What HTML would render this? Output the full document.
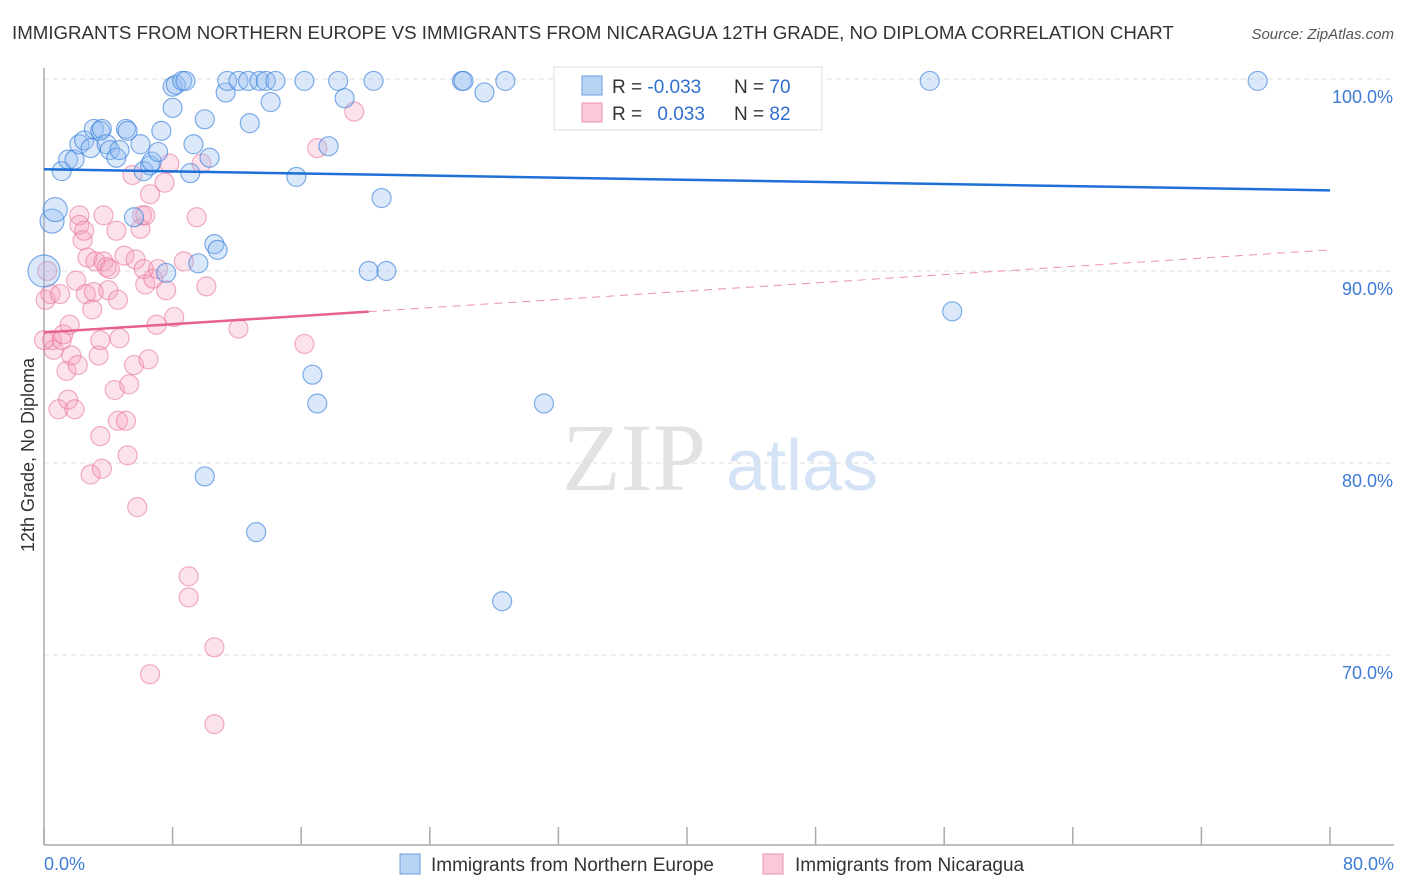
<!DOCTYPE html>
<html><head><meta charset="utf-8">
<style>
body{margin:0;background:#fff;font-family:"Liberation Sans",sans-serif;}
#wrap{position:relative;width:1406px;height:892px;overflow:hidden;}
</style></head>
<body>
<div id="wrap">
<svg id="chart" width="1406" height="892">
<text x="12" y="39" font-size="18.7" fill="#333">IMMIGRANTS FROM NORTHERN EUROPE VS IMMIGRANTS FROM NICARAGUA 12TH GRADE, NO DIPLOMA CORRELATION CHART</text>
<text x="1394" y="39" font-size="15" fill="#555" font-style="italic" text-anchor="end">Source: ZipAtlas.com</text>
<g>
<text x="634" y="490" font-size="96" fill="#e2e2e2" font-family="Liberation Serif,serif" text-anchor="middle">ZIP</text>
<text x="802" y="490" font-size="72" fill="#d4e3f5" text-anchor="middle">atlas</text>
</g>
<g id="grid"></g>
<g id="axes"></g>
<g id="pts"></g>
<g id="trend"></g>
<g>
<rect x="554" y="67" width="268" height="63" fill="#fff" stroke="#ddd"/>
<rect x="582" y="76" width="20" height="19" fill="#b9d3f5" stroke="#6a9fe0"/>
<rect x="582" y="103" width="20" height="19" fill="#f9c9d8" stroke="#eb90ae"/>
<text x="612" y="93" font-size="19" fill="#333">R = <tspan fill="#2f6fcf">-0.033</tspan></text>
<text x="734" y="93" font-size="19" fill="#333">N = <tspan fill="#2f6fcf">70</tspan></text>
<text x="612" y="120" font-size="19" fill="#333">R = <tspan fill="#2f6fcf" dx="10">0.033</tspan></text>
<text x="734" y="120" font-size="19" fill="#333">N = <tspan fill="#2f6fcf">82</tspan></text>
</g>
<g>
<rect x="400" y="854" width="20" height="20" fill="#b9d3f5" stroke="#6a9fe0"/>
<text x="431" y="871" font-size="19" fill="#333">Immigrants from Northern Europe</text>
<rect x="763" y="854" width="20" height="20" fill="#f9c9d8" stroke="#eb90ae"/>
<text x="795" y="871" font-size="19" fill="#333">Immigrants from Nicaragua</text>
</g>
<text transform="translate(34,455) rotate(-90)" font-size="18" fill="#333" text-anchor="middle">12th Grade, No Diploma</text>
</svg>
</div>
<script>
const blueX=[0.5,0.7,1.1,1.5,1.9,2.2,2.5,2.9,3.1,3.5,3.6,3.9,4.1,4.5,4.7,5.1,5.2,6.0,6.2,6.6,6.7,7.1,7.3,5.6,7.6,8.0,8.2,8.6,8.8,8.0,10.0,9.3,9.1,10.3,10.6,10.8,9.6,11.3,11.4,12.1,12.7,12.8,13.4,13.8,14.1,14.4,15.7,16.2,17.7,18.3,18.7,20.2,20.5,21.0,21.3,16.7,17.0,10.0,13.2,26.0,26.1,27.4,28.7,28.5,31.1,33.0,55.1,56.5,75.5,0.0];
const blueY=[92.6,93.2,95.2,95.8,95.8,96.6,96.8,96.4,97.4,97.3,97.4,96.6,96.3,95.9,96.3,97.4,97.3,96.6,95.2,95.5,95.7,96.2,97.3,92.8,89.9,99.6,99.7,99.9,99.9,98.5,97.9,96.6,95.1,95.9,91.4,91.1,90.4,99.3,99.9,99.9,99.9,97.7,99.9,99.9,98.8,99.9,94.9,99.9,96.5,99.9,99.0,90.0,99.9,93.8,90.0,84.6,83.1,79.3,76.4,99.9,99.9,99.3,99.9,72.8,83.1,99.9,99.9,87.9,99.9,90.0];
const blueBig=[0,1,69];
const pinkX=[0.1,0.4,0.5,0.6,0.9,1.0,1.1,1.2,1.4,1.5,1.6,1.7,1.9,2.0,2.1,2.2,2.2,2.4,2.5,2.6,2.7,2.9,3.0,3.1,3.2,3.4,3.5,3.5,3.6,3.7,3.7,3.9,4.0,4.1,4.4,4.5,4.6,4.6,4.7,5.0,5.1,5.2,5.3,5.5,5.6,5.7,5.8,6.0,6.1,6.2,6.3,6.3,6.5,6.6,6.6,6.8,7.0,7.1,7.5,7.6,7.8,8.1,8.7,9.0,9.0,9.5,9.8,10.1,10.6,10.6,12.1,16.2,17.0,19.3,0.0,0.2];
const pinkY=[88.5,88.8,86.4,85.9,82.8,88.8,86.4,86.7,84.8,83.3,87.2,85.6,82.8,89.5,85.1,92.9,92.4,91.6,92.1,88.8,90.7,79.4,88.0,88.9,90.5,85.6,81.4,86.4,79.7,92.9,90.5,90.2,89.0,90.1,83.8,92.1,88.5,82.2,86.5,90.8,82.2,80.4,84.1,95.0,85.1,90.6,77.7,92.2,92.9,90.1,89.3,92.9,85.4,69.0,94.0,89.6,87.2,90.1,94.6,89.0,95.6,87.6,90.5,74.1,73.0,92.8,95.6,89.2,70.4,66.4,87.0,86.2,96.4,98.3,86.4,90.0];
const yTicks=[100,90,80,70];
const yTickLabels=["100.0%","90.0%","80.0%","70.0%"];
const xTickLabels=["0.0%","80.0%"];
const blueTrend=[95.3,94.2];
const pinkTrend=[86.8,91.1];
const pinkSolidEnd=20.2;

const NS="http://www.w3.org/2000/svg";
const X0=44,X1=1330,Y0=845,YT=79;
const sx=v=>X0+(v/80)*(X1-X0);
const sy=v=>YT+(100-v)*19.2;
function mk(tag,attrs,parent){const e=document.createElementNS(NS,tag);for(const k in attrs)e.setAttribute(k,attrs[k]);parent.appendChild(e);return e;}
const grid=document.getElementById('grid'),axes=document.getElementById('axes'),pts=document.getElementById('pts'),tr=document.getElementById('trend');
yTicks.forEach((t,i)=>{
  const l=mk('line',{x1:X0,x2:1394,y1:sy(t),y2:sy(t),stroke:'#ddd','stroke-dasharray':'5,4'},grid);
  
  
  const tx=mk('text',{x:1393,y:sy(t)+24,'font-size':18,fill:'#3d7bd6','text-anchor':'end'},axes);
  tx.textContent=yTickLabels[i];
  
  
});
const ya=mk('line',{x1:X0,x2:X0,y1:68,y2:Y0,stroke:'#aaa','stroke-width':1.5},axes);


const xa=mk('line',{x1:X0,x2:1394,y1:Y0,y2:Y0,stroke:'#aaa','stroke-width':1.5},axes);


for(let i=0;i<=10;i++){
  const v=i*8;
  const t=mk('line',{x1:sx(v),x2:sx(v),y1:Y0,y2:Y0-18,stroke:'#aaa','stroke-width':1.5},axes);
  
  
}
[[0,44,'start'],[1,1394,'end']].forEach(([i,x,a])=>{
  const t=mk('text',{x:x,y:870,'font-size':18,fill:'#3d7bd6','text-anchor':a},axes);
  t.textContent=xTickLabels[i];
  
  
});
pinkX.forEach((x,i)=>{
  const c=mk('circle',{cx:sx(x),cy:sy(pinkY[i]),r:9.5,fill:'rgba(244,160,188,0.3)',stroke:'rgba(230,110,150,0.55)','stroke-width':1.2},pts);
  
  
});
blueX.forEach((x,i)=>{
  const r=blueBig.includes(i)?(i===69?16:12):9.5;
  const c=mk('circle',{cx:sx(x),cy:sy(blueY[i]),r:r,fill:'rgba(150,190,240,0.35)',stroke:'rgba(60,130,220,0.65)','stroke-width':1.2},pts);
  
  
});
const bl=mk('line',{x1:sx(0),y1:sy(blueTrend[0]),x2:sx(80),y2:sy(blueTrend[1]),stroke:'#1e6fd6','stroke-width':2.5},tr);


const pAt=v=>pinkTrend[0]+(pinkTrend[1]-pinkTrend[0])*v/80;
const ps=mk('line',{x1:sx(0),y1:sy(pAt(0)),x2:sx(pinkSolidEnd),y2:sy(pAt(pinkSolidEnd)),stroke:'#e8608e','stroke-width':2.5},tr);


const pd=mk('line',{x1:sx(pinkSolidEnd),y1:sy(pAt(pinkSolidEnd)),x2:sx(80),y2:sy(pAt(80)),stroke:'#eb90ae','stroke-width':1,'stroke-dasharray':'8,6'},tr);


</script>
</body></html>
